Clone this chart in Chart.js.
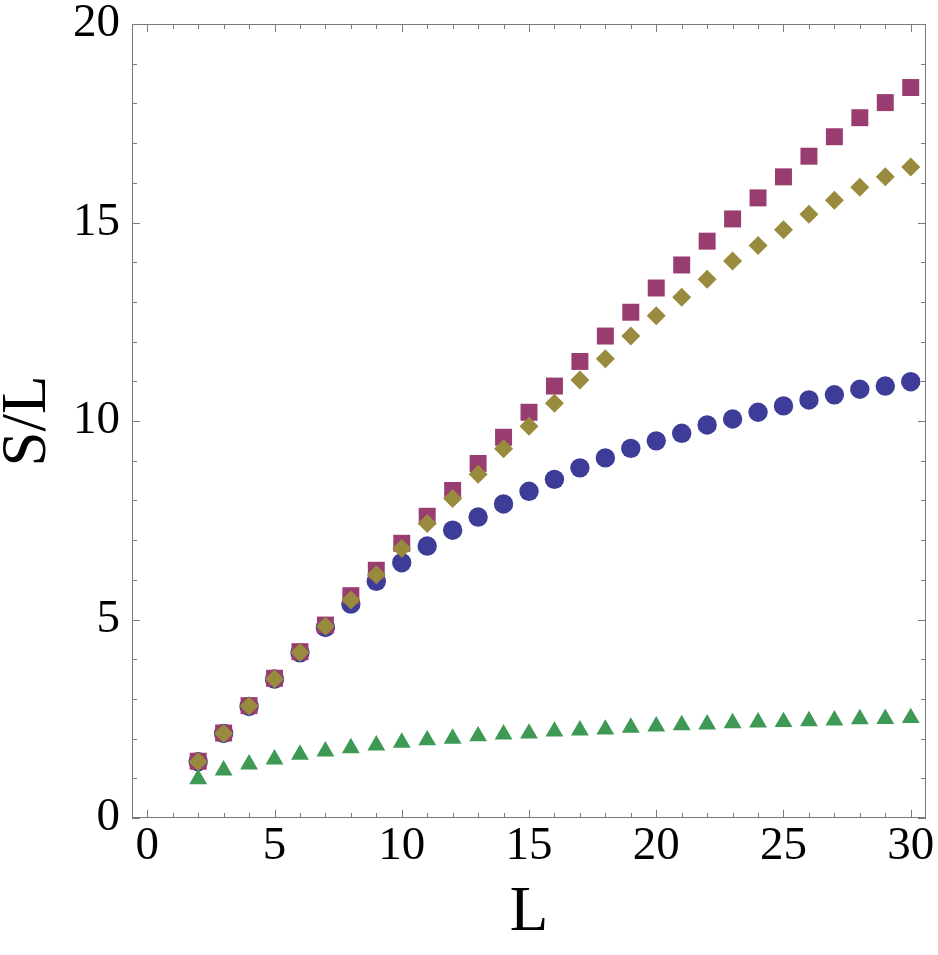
<!DOCTYPE html>
<html>
<head>
<meta charset="utf-8">
<script src="https://cdn.jsdelivr.net/npm/chart.js@4/dist/chart.umd.min.js"></script>
<style>
  body { margin: 0; background: #fff; }
</style>
</head>
<body>
<canvas id="myChart" width="938" height="955"></canvas>
<script>
var sizes = [2,3,4,5,6,7,8,9,10,11,12,13,14,15,16,17,18,19,20,21,22,23,24,25,26,27,28,29,30];
var circles = [1.42,2.13,2.81,3.5,4.16,4.8,5.39,5.96,6.43,6.85,7.25,7.58,7.91,8.23,8.53,8.82,9.07,9.31,9.5,9.69,9.9,10.05,10.22,10.38,10.53,10.66,10.8,10.88,10.99];
var squares = [1.43,2.14,2.83,3.52,4.19,4.86,5.6,6.24,6.92,7.6,8.25,8.93,9.59,10.22,10.88,11.5,12.14,12.74,13.35,13.93,14.53,15.09,15.62,16.15,16.67,17.16,17.64,18.02,18.4];
var diamonds = [1.42,2.13,2.82,3.5,4.17,4.83,5.49,6.13,6.79,7.42,8.05,8.66,9.3,9.87,10.45,11.03,11.57,12.14,12.65,13.12,13.57,14.03,14.42,14.82,15.21,15.56,15.89,16.15,16.4];
var triangles = [0.98,1.2,1.35,1.48,1.6,1.68,1.76,1.83,1.9,1.96,2.0,2.06,2.11,2.13,2.18,2.21,2.23,2.28,2.31,2.34,2.36,2.39,2.41,2.42,2.44,2.46,2.49,2.5,2.52];
var xTicks = [0,5,10,15,20,25,30];
var yTicks = [0,5,10,15,20];

function pts(ys) {
    return sizes.map(function (x, i) { return {x: x, y: ys[i]}; });
}

function series(ys, style, color, r, order) {
    return {
        data: pts(ys),
        pointStyle: style,
        pointRadius: r,
        pointHoverRadius: r,
        pointBackgroundColor: color,
        pointBorderWidth: 0,
        showLine: false,
        order: order
    };
}

// mathematica style frame: ticks inside on all four sides
var frame = {
    id: 'frame',
    afterDatasetsDraw: function (chart) {
        var c = chart.ctx, a = chart.chartArea;
        var xs = chart.scales.x, ys = chart.scales.y;
        c.save();
        c.strokeStyle = '#7a7a7a';
        c.lineWidth = 1;
        c.strokeRect(a.left + 0.5, a.top + 0.5, a.right - a.left - 1, a.bottom - a.top - 1);
        c.beginPath();
        var v, p, len;
        for (v = 0; v <= 30; v++) {
            p = Math.round(xs.getPixelForValue(v)) + 0.5;
            len = v % 5 === 0 ? 8 : 5;
            c.moveTo(p, a.bottom); c.lineTo(p, a.bottom - len);
            c.moveTo(p, a.top); c.lineTo(p, a.top + len);
        }
        for (v = 0; v <= 20; v++) {
            p = Math.round(ys.getPixelForValue(v)) + 0.5;
            len = v % 5 === 0 ? 8 : 5;
            c.moveTo(a.left, p); c.lineTo(a.left + len, p);
            c.moveTo(a.right, p); c.lineTo(a.right - len, p);
        }
        c.stroke();
        c.restore();
    }
};

var tickFont = {family: 'Liberation Serif', size: 47, lineHeight: 1};
var titleFont = {family: 'Liberation Serif', size: 63, lineHeight: 1};

var ctx = document.getElementById('myChart').getContext('2d');
var chart = new Chart(ctx, {
    type: 'scatter',
    data: {
        datasets: [
            series(circles, 'circle', '#3d3d99', 9.7, 4),
            series(squares, 'rect', '#993d71', 12, 3),
            series(diamonds, 'rectRot', '#998b3d', 9.5, 2),
            series(triangles, 'triangle', '#3d9954', 10.3, 1)
        ]
    },
    options: {
        responsive: false,
        animation: false,
        layout: {padding: {top: 24, right: 12, left: 0, bottom: 0}},
        plugins: {legend: {display: false}, tooltip: {enabled: false}},
        scales: {
            x: {
                type: 'linear',
                min: -0.6,
                max: 30.6,
                grid: {display: false, drawTicks: false},
                border: {display: false},
                ticks: {font: tickFont, color: '#000', padding: 5, maxRotation: 0},
                afterBuildTicks: function (s) { s.ticks = xTicks.map(function (v) { return {value: v}; }); },
                afterFit: function (s) { s.height = 137; s.paddingLeft = 0; s.paddingRight = 0; },
                title: {display: true, text: 'L', font: titleFont, color: '#000', padding: {top: 0, bottom: 10}}
            },
            y: {
                type: 'linear',
                min: 0,
                max: 20,
                grid: {display: false, drawTicks: false},
                border: {display: false},
                ticks: {font: tickFont, color: '#000', padding: 12},
                afterBuildTicks: function (s) { s.ticks = yTicks.map(function (v) { return {value: v}; }); },
                afterFit: function (s) { s.width = 132; s.paddingTop = 0; s.paddingBottom = 0; },
                title: {display: true, text: 'S/L', font: titleFont, color: '#000', padding: {top: -3, bottom: 0}}
            }
        }
    },
    plugins: [frame]
});
</script>
</body>
</html>
